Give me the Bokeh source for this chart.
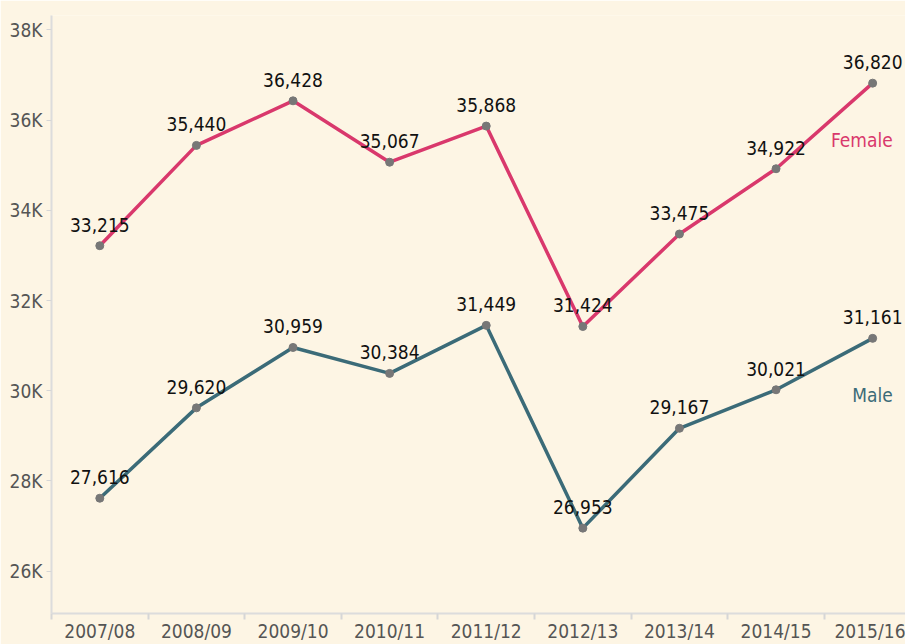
from bokeh.plotting import figure
from bokeh.models import ColumnDataSource, FixedTicker, Range1d
from bokeh.core.properties import value
from bokeh.embed import file_html
from bokeh.resources import INLINE

years = ["2007/08", "2008/09", "2009/10", "2010/11", "2011/12",
         "2012/13", "2013/14", "2014/15", "2015/16"]
female = [33215, 35440, 36428, 35067, 35868, 31424, 33475, 34922, 36820]
male = [27616, 29620, 30959, 30384, 31449, 26953, 29167, 30021, 31161]
y_ticks = [26000, 28000, 30000, 32000, 34000, 36000, 38000]
y_tick_labels = ["26K", "28K", "30K", "32K", "34K", "36K", "38K"]

BG = "#fdf5e4"
FONT = "DejaVu Sans Condensed"
F_COL = "#d9386c"
M_COL = "#3b6b78"

xs = list(range(len(years)))

p = figure(width=905, height=644, output_backend="svg", toolbar_location=None,
           x_range=Range1d(-0.5, 8.34), y_range=Range1d(25060, 38320),
           min_border_left=51, min_border_right=0, min_border_top=15, min_border_bottom=26)
p.background_fill_color = BG
p.border_fill_color = BG
p.outline_line_color = None
p.grid.visible = False

# x axis
p.xaxis.ticker = FixedTicker(ticks=xs, minor_ticks=[i - 0.5 for i in range(len(years) + 1)])
p.xaxis.major_label_overrides = {i: y for i, y in enumerate(years)}
p.xaxis.major_tick_line_color = None
p.xaxis.major_tick_out = 0
p.xaxis.major_tick_in = 0
p.xaxis.minor_tick_line_color = "#d6d6d6"
p.xaxis.minor_tick_line_width = 2
p.xaxis.minor_tick_out = 6
p.xaxis.minor_tick_in = 0
p.xaxis.axis_line_color = "#dcdcdc"
p.xaxis.axis_line_width = 2
p.xaxis.major_label_text_font = FONT
p.xaxis.major_label_text_font_size = "19px"
p.xaxis.major_label_text_color = "#555555"
p.xaxis.major_label_standoff = 0

# y axis
p.yaxis.ticker = FixedTicker(ticks=y_ticks)
p.yaxis.major_label_overrides = {t: l for t, l in zip(y_ticks, y_tick_labels)}
p.yaxis.minor_tick_line_color = None
p.yaxis.major_tick_line_color = "#d6d6d6"
p.yaxis.major_tick_out = 5
p.yaxis.major_tick_in = 0
p.yaxis.axis_line_color = "#dcdcdc"
p.yaxis.axis_line_width = 2
p.yaxis.major_label_text_font = FONT
p.yaxis.major_label_text_font_size = "19px"
p.yaxis.major_label_text_color = "#555555"
p.yaxis.major_label_standoff = 4

for vals, col, name in [(female, F_COL, "Female"), (male, M_COL, "Male")]:
    src = ColumnDataSource(dict(x=xs, y=vals, lab=[f"{v:,}" for v in vals]))
    p.line("x", "y", source=src, line_color=col, line_width=3.5)
    p.scatter("x", "y", source=src, size=8, fill_color="#777777", line_color="#777777")
    p.text("x", "y", text="lab", source=src, text_font=value(FONT),
           text_font_size="19px", text_color="#111111", text_align="center",
           text_baseline="middle", y_offset=-21)
    p.text(x=[xs[-1]], y=[vals[-1]], text=[name], text_font=value(FONT),
           text_font_size="19px", text_color=col, text_align="right",
           text_baseline="middle", x_offset=20, y_offset=57)

html = file_html(p, INLINE)
html = html.replace("<body>", f'<body style="background:{BG};">', 1)
open("out.html", "w").write(html)
